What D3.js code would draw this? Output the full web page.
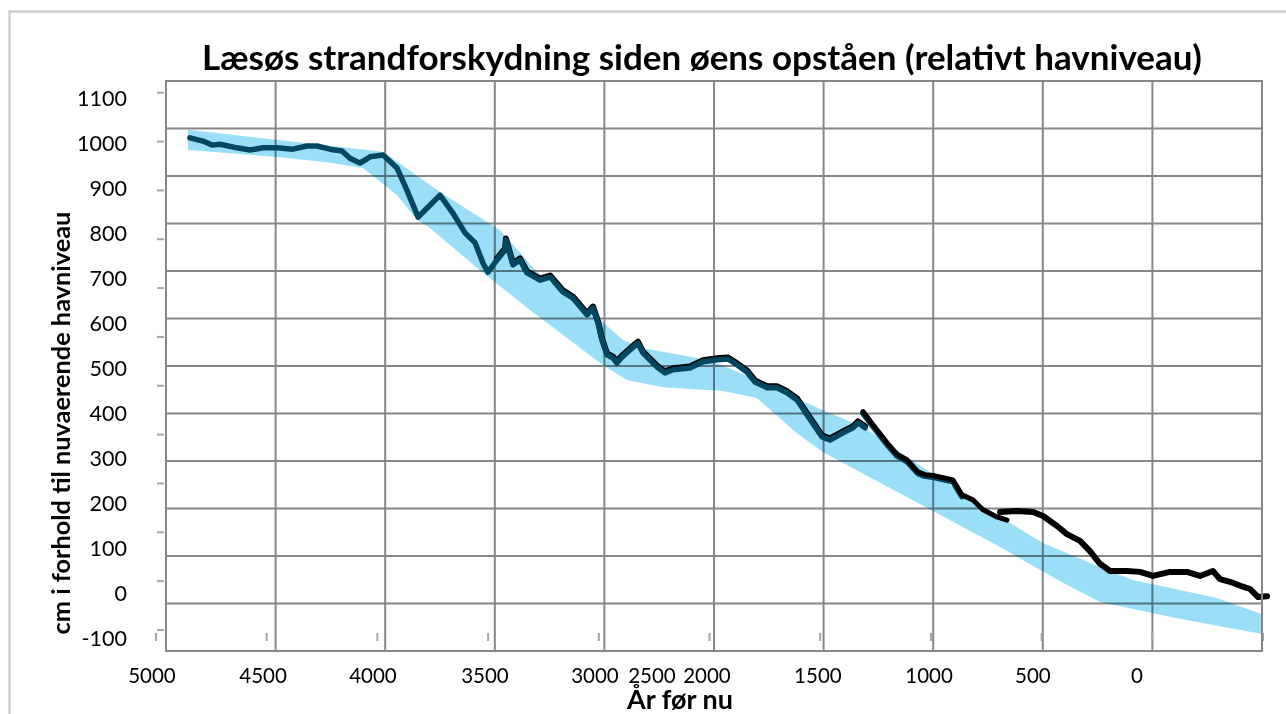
<!DOCTYPE html>
<html>
<head>
<meta charset="utf-8">
<script src="https://cdn.jsdelivr.net/npm/d3@7"></script>
<style>
  body { margin: 0; background: #fff; }
  text { font-family: Lato, "Open Sans", sans-serif; fill: #000; }
</style>
</head>
<body>
<div id="chart"></div>
<script>
// band of the relative sea level (upper and lower edge), years before now / cm
var bandTopYear = [4900, 4010, 3750, 3476, 3307, 3034, 2915, 2824, 2518, 2322, 2003, 1820, 1528, 1195, 999, 707, 589, 205, 0];
var bandTopCm   = [1030, 981, 892, 807, 714, 614, 563, 545, 518, 478, 407, 370, 274, 170, 112, 52, 30, -10, -46];
var bandLowYear = [4900, 4503, 4266, 4101, 3946, 3855, 3796, 3568, 3339, 3006, 2897, 2733, 2459, 2304, 2121, 2003, 1592, 1195, 908, 739, 388, 0];
var bandLowCm   = [985, 970, 958, 945, 885, 830, 812, 718, 630, 507, 474, 458, 450, 434, 356, 314, 207, 103, 24, -19, -55, -90];

// older shoreline curve
var mainYear = [4891, 4831, 4790, 4754, 4676, 4617, 4557, 4494, 4421, 4357, 4311, 4252, 4197, 4161, 4115, 4069, 4010,
  3946, 3901, 3850, 3805, 3750, 3691, 3636, 3590, 3554, 3531, 3490, 3453, 3449, 3417, 3385, 3353, 3294, 3248, 3189,
  3143, 3098, 3079, 3052, 3029, 3011, 2988, 2961, 2943, 2920, 2874, 2847, 2824, 2760, 2724, 2687, 2610, 2550, 2486,
  2436, 2395, 2350, 2313, 2258, 2213, 2167, 2121, 2076, 2007, 1971, 1911, 1866, 1843, 1811];
var mainCm = [1012, 1005, 996, 998, 990, 985, 990, 990, 987, 994, 994, 987, 983, 967, 956, 970, 974,
  945, 896, 836, 858, 885, 845, 801, 779, 734, 714, 741, 763, 785, 730, 741, 712, 696, 703, 670,
  656, 630, 619, 634, 601, 563, 530, 523, 512, 525, 545, 556, 534, 503, 490, 497, 501, 515, 519,
  521, 508, 492, 470, 457, 457, 446, 430, 397, 348, 341, 357, 368, 379, 368];

// second curve segment
var laterYear = [1820, 1775, 1711, 1665, 1620, 1569, 1537, 1501, 1455, 1410, 1369, 1319, 1273, 1209, 1163];
var laterCm   = [404, 375, 335, 309, 297, 270, 264, 262, 257, 252, 219, 208, 186, 170, 163];

// youngest curve segment
var recentYear = [1195, 1118, 1045, 999, 935, 890, 830, 785, 739, 693, 616, 557, 497, 420, 342, 283, 224, 192, 146, 87, 55, 18, -23];
var recentCm   = [181, 183, 181, 172, 150, 132, 117, 94, 66, 50, 50, 48, 39, 48, 48, 39, 50, 32, 26, 15, 10, -8, -6];

var yTickLabels = [1100, 1000, 900, 800, 700, 600, 500, 400, 300, 200, 100, 0, -100];
var xTickLabels = ["5000", "4500", "4000", "3500", "3000", "2500", "2000", "1500", "1000", "500", "0"];
var xTickLabelAt = [5064, 4557, 4056, 3545, 3043, 2783, 2532, 2026, 1519, 1045, 570];

(function () {
  var width = 1286, height = 714;
  var plot = {left: 166, top: 81, right: 1262, bottom: 651};
  var gridColor = "#878787";

  var svg = d3.select("#chart")
    .append("svg")
    .attr("width", width)
    .attr("height", height)
    .style("display", "block");

  var x = d3.scaleLinear().domain([5000, 0]).range([plot.left, plot.right]);
  var y = d3.scaleLinear().domain([-100, 1100]).range([638.5, 98.3]);
  var yGrid = d3.scaleLinear().domain([0, 12]).range([plot.bottom, plot.top]);
  var yMark = d3.scaleLinear().domain([0, 11]).range([630, 92.7]);
  var xMark = d3.scaleLinear().domain([0, 10]).range([156, 1263]);

  function zip(xs, ys) {
    return xs.map(function (d, i) { return [d, ys[i]]; });
  }

  var line = d3.line()
    .x(function (d) { return x(d[0]); })
    .y(function (d) { return y(d[1]); });

  // outer frame
  svg.append("rect")
    .attr("x", 9.5).attr("y", 11.5)
    .attr("width", 1300).attr("height", 720)
    .attr("fill", "none")
    .attr("stroke", "#cfcfcf")
    .attr("stroke-width", 2.5);

  // grid
  var grid = svg.append("g").attr("stroke", gridColor).attr("stroke-width", 2);
  grid.selectAll("line.v")
    .data(d3.range(5000, -1, -500))
    .enter().append("line")
    .attr("class", "v")
    .attr("x1", function (d) { return x(d); })
    .attr("x2", function (d) { return x(d); })
    .attr("y1", plot.top).attr("y2", plot.bottom);
  grid.selectAll("line.h")
    .data(d3.range(0, 13))
    .enter().append("line")
    .attr("class", "h")
    .attr("x1", plot.left).attr("x2", plot.right)
    .attr("y1", function (d) { return yGrid(d); })
    .attr("y2", function (d) { return yGrid(d); });

  // tick marks
  var marks = svg.append("g").attr("stroke", "#a6a6a6").attr("stroke-width", 2);
  marks.selectAll("line.ym")
    .data(d3.range(0, 12))
    .enter().append("line")
    .attr("x1", 157).attr("x2", 164)
    .attr("y1", function (d) { return yMark(d); })
    .attr("y2", function (d) { return yMark(d); });
  marks.selectAll("line.xm")
    .data(d3.range(0, 11))
    .enter().append("line")
    .attr("x1", function (d) { return xMark(d); })
    .attr("x2", function (d) { return xMark(d); })
    .attr("y1", 633).attr("y2", 641);

  // sea level band
  var bandPts = zip(bandTopYear, bandTopCm).concat(zip(bandLowYear, bandLowCm).reverse());
  svg.append("path")
    .attr("d", line(bandPts) + "Z")
    .attr("fill", "#9adff7")
    .style("mix-blend-mode", "multiply");

  function drawLine(data, color, w, dy) {
    svg.append("path")
      .attr("d", line(data))
      .attr("transform", "translate(0," + dy + ")")
      .attr("fill", "none")
      .attr("stroke", color)
      .attr("stroke-width", w)
      .attr("stroke-linejoin", "round")
      .attr("stroke-linecap", "round");
  }

  var main = zip(mainYear, mainCm);
  drawLine(main.slice(27), "#000", 6, -1.5);
  drawLine(main, "#00475f", 5.5, 0);
  var later = zip(laterYear, laterCm);
  drawLine(later.slice(0, 11), "#00475f", 6, 1.5);
  drawLine(later, "#000", 5, 0);
  drawLine(zip(recentYear, recentCm), "#000", 6, 0);

  // plot border
  svg.append("rect")
    .attr("x", plot.left).attr("y", plot.top)
    .attr("width", plot.right - plot.left)
    .attr("height", plot.bottom - plot.top)
    .attr("fill", "none")
    .attr("stroke", gridColor)
    .attr("stroke-width", 2);

  // tick labels
  svg.append("g").selectAll("text")
    .data(yTickLabels)
    .enter().append("text")
    .attr("x", 127)
    .attr("y", function (d) { return y(d) + 7.7; })
    .attr("text-anchor", "end")
    .style("font-size", "21.5px")
    .text(function (d) { return d; });

  svg.append("g").selectAll("text")
    .data(xTickLabels)
    .enter().append("text")
    .attr("x", function (d, i) { return x(xTickLabelAt[i]); })
    .attr("y", 683)
    .attr("text-anchor", "middle")
    .style("font-size", "20.5px")
    .text(function (d) { return d; });

  function fitText(sel, target) {
    var size = parseFloat(sel.style("font-size"));
    var len = sel.node().getComputedTextLength();
    sel.style("font-size", (size * target / len) + "px");
  }

  var title = svg.append("text")
    .attr("x", 702).attr("y", 70)
    .attr("text-anchor", "middle")
    .style("font-size", "30px")
    .style("font-weight", "bold")
    .text("Læsøs strandforskydning siden øens opståen (relativt havniveau)");
  fitText(title, 1000);

  var xTitle = svg.append("text")
    .attr("x", 680).attr("y", 709)
    .attr("text-anchor", "middle")
    .style("font-size", "22px")
    .style("font-weight", "bold")
    .text("År før nu");
  fitText(xTitle, 106);

  var yTitle = svg.append("text")
    .attr("transform", "translate(70,423) rotate(-90)")
    .attr("text-anchor", "middle")
    .style("font-size", "22px")
    .style("font-weight", "bold")
    .text("cm i forhold til nuvaerende havniveau");
  fitText(yTitle, 423);
}());
</script>
</body>
</html>
